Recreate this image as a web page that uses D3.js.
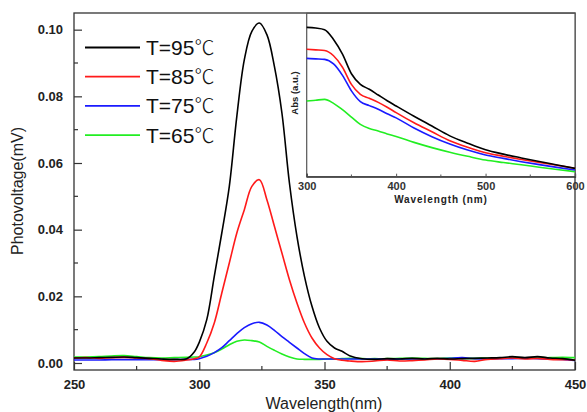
<!DOCTYPE html>
<html>
<head>
<meta charset="utf-8">
<script src="https://cdn.jsdelivr.net/npm/d3@7"></script>
<style>
  body { margin: 0; background: #fff; }
  svg { display: block; font-family: "Liberation Sans", Arial, sans-serif; }
</style>
</head>
<body>
<div id="chart"></div>
<script>
// main plot: photovoltage spectra
var wavelengths = [250,255,260,265,270,275,280,285,290,295,298,300,303,306,309,312,315,318,321,324,327,330,333,336,339,342,345,348,351,354,357,360,365,370,375,380,385,390,395,400,405,410,415,420,425,430,435,440,445,450];
var t95 = [.0015,.0015,.0016,.0017,.0018,.0016,.0014,.0012,.0011,.0013,.0033,.0062,.013,.026,.039,.053,.074,.091,.0995,.102,.0985,.089,.075,.054,.038,.026,.017,.0105,.0065,.0045,.0035,.0022,.0013,.0011,.0013,.0012,.0014,.0012,.0014,.0012,.0013,.0014,.0015,.0016,.0019,.0016,.0019,.0015,.0013,.0008];
var t85 = [.0015,.0016,.0014,.0016,.0017,.0015,.0013,.0008,.0005,.0009,.0013,.0018,.006,.012,.021,.030,.039,.046,.053,.055,.049,.041,.033,.025,.018,.012,.0075,.0045,.0025,.0013,.0008,.0006,.0004,.0006,.0009,.0006,.0007,.0009,.0012,.0011,.0008,.0005,.0011,.0013,.0015,.0012,.0014,.0011,.0010,.0009];
var t75 = [.0009,.0009,.0009,.0010,.0010,.0010,.0010,.0010,.0010,.0011,.0011,.0013,.0020,.0031,.0046,.0067,.0088,.0106,.0118,.0122,.0114,.0098,.0079,.0062,.0045,.0028,.0015,.0012,.0012,.0012,.0012,.0012,.0012,.0012,.0011,.0012,.0012,.0012,.0012,.0014,.0016,.0013,.0012,.0013,.0013,.0014,.0013,.0012,.0011,.0008];
var t65 = [.0018,.0018,.0019,.0021,.0022,.0019,.0016,.0015,.0016,.0017,.0018,.0019,.0024,.0031,.0042,.0055,.0065,.0069,.0067,.0063,.0050,.0038,.0027,.0018,.0012,.0011,.0011,.0011,.0012,.0012,.0013,.0014,.0013,.0013,.0013,.0014,.0015,.0014,.0013,.0015,.0014,.0014,.0015,.0015,.0016,.0015,.0016,.0016,.0017,.0016];

var seriesTemps = ["T=95", "T=85", "T=75", "T=65"];
var seriesColors = ["#000000", "#ff1a1a", "#1a1aff", "#22ee22"];
var xTicks = [250, 300, 350, 400, 450];
var yTicks = [0, 0.02, 0.04, 0.06, 0.08, 0.10];

// inset: absorbance spectra
var insetWl = [300,310,320,330,340,350,360,370,380,390,400,420,440,460,480,500,520,540,560,580,600];
var abs95 = [.914,.91,.90,.84,.75,.63,.565,.535,.50,.465,.433,.37,.31,.25,.205,.165,.138,.115,.093,.072,.051];
var abs85 = [.78,.776,.772,.74,.67,.565,.504,.48,.455,.425,.392,.33,.275,.22,.18,.147,.125,.105,.087,.07,.051];
var abs75 = [.724,.721,.718,.69,.62,.525,.459,.435,.413,.385,.36,.298,.245,.2,.163,.133,.112,.092,.074,.057,.041];
var abs65 = [.463,.468,.473,.449,.41,.365,.32,.295,.28,.262,.246,.21,.178,.15,.125,.102,.087,.073,.058,.044,.031];
var insetTicks = [300, 400, 500, 600];

var width = 587, height = 412;
var svg = d3.select("#chart").append("svg")
    .attr("width", width)
    .attr("height", height);

var xScale = d3.scaleLinear().domain([250, 450]).range([74, 575]);
var yScale = d3.scaleLinear().domain([-0.0021, 0.105]).range([370, 13]);

var axisColor = "#333";

// frame
svg.append("rect")
    .attr("x", 74).attr("y", 13)
    .attr("width", 575 - 74).attr("height", 370 - 13)
    .attr("fill", "none").attr("stroke", axisColor).attr("stroke-width", 1.3);

// minor ticks
var minorX = d3.range(275, 450, 50);
var minorY = d3.range(0.01, 0.105, 0.02);
svg.append("g").selectAll("line").data(minorX).enter().append("line")
    .attr("x1", d => xScale(d)).attr("x2", d => xScale(d))
    .attr("y1", 370).attr("y2", 366)
    .attr("stroke", axisColor).attr("stroke-width", 1.2);
svg.append("g").selectAll("line").data(minorY).enter().append("line")
    .attr("x1", 74).attr("x2", 78)
    .attr("y1", d => yScale(d)).attr("y2", d => yScale(d))
    .attr("stroke", axisColor).attr("stroke-width", 1.2);

// major ticks via d3 axes
var xAxis = d3.axisBottom(xScale).tickValues(xTicks).tickSize(-8).tickPadding(10).tickFormat(d3.format("d"));
var yAxis = d3.axisLeft(yScale).tickValues(yTicks).tickSize(-8).tickPadding(11).tickFormat(d3.format(".2f"));

var gx = svg.append("g").attr("transform", "translate(0,370)").call(xAxis);
var gy = svg.append("g").attr("transform", "translate(74,0)").call(yAxis);
[gx, gy].forEach(function(g) {
    g.select(".domain").remove();
    g.selectAll(".tick line").attr("stroke", axisColor).attr("stroke-width", 1.2);
    g.selectAll(".tick text")
        .attr("fill", "#222")
        .style("font-size", "13px")
        .style("font-weight", "bold")
        .style("font-family", "'Liberation Sans', Arial, sans-serif");
});

// axis titles
svg.append("text")
    .attr("x", 324).attr("y", 409)
    .attr("text-anchor", "middle")
    .style("font-size", "16px")
    .attr("fill", "#222")
    .text("Wavelength(nm)");
svg.append("text")
    .attr("transform", "translate(23,191) rotate(-90)")
    .attr("text-anchor", "middle")
    .style("font-size", "16px")
    .attr("fill", "#222")
    .text("Photovoltage(mV)");

// curves
var mainSeries = [t95, t85, t75, t65];
var line = d3.line()
    .x((d, i) => xScale(wavelengths[i]))
    .y(d => yScale(d))
    .curve(d3.curveCatmullRom.alpha(0.5));

svg.append("g").selectAll("path")
    .data(mainSeries.slice().reverse())
    .enter().append("path")
    .attr("d", d => line(d))
    .attr("fill", "none")
    .attr("stroke", (d, i) => seriesColors[3 - i])
    .attr("stroke-width", 1.6);

// legend
var legend = svg.append("g").selectAll("g")
    .data(seriesTemps).enter().append("g")
    .attr("transform", (d, i) => "translate(0," + (47.5 + i * 29.2) + ")");
legend.append("line")
    .attr("x1", 85).attr("x2", 140)
    .attr("stroke", (d, i) => seriesColors[i])
    .attr("stroke-width", 1.8);
var lt = legend.append("text")
    .attr("x", 146).attr("y", 7.5)
    .style("font-size", "21px")
    .attr("fill", "#111");
lt.append("tspan").text(d => d);
lt.append("tspan")
    .style("font-family", "'Noto Sans CJK SC', 'Noto Sans CJK JP', sans-serif")
    .style("font-weight", "300")
    .style("font-size", "20px")
    .text("℃");

// inset
var ix = d3.scaleLinear().domain([300, 600]).range([306.7, 575]);
var iy = d3.scaleLinear().domain([0, 1]).range([176.7, 13.3]);

svg.append("rect")
    .attr("x", 306.7).attr("y", 13.3)
    .attr("width", 575 - 306.7).attr("height", 176.7 - 13.3)
    .attr("fill", "#fff").attr("stroke", "#555").attr("stroke-width", 1.2);

var insetAxis = d3.axisBottom(ix).tickValues(insetTicks).tickSize(-3).tickPadding(6).tickFormat(d3.format("d"));
var gi = svg.append("g").attr("transform", "translate(0,176.7)").call(insetAxis);
gi.select(".domain").attr("stroke", "#333").attr("stroke-width", 1.3);
gi.selectAll(".tick line").attr("stroke", "#555");
gi.selectAll(".tick text")
    .attr("fill", "#333")
    .style("font-size", "11px")
    .style("font-weight", "bold")
    .style("font-family", "'Liberation Sans', Arial, sans-serif");
svg.append("g").selectAll("line").data([350, 450, 550]).enter().append("line")
    .attr("x1", d => ix(d)).attr("x2", d => ix(d))
    .attr("y1", 176.7).attr("y2", 174.5)
    .attr("stroke", "#555");

svg.append("text")
    .attr("x", 441).attr("y", 203)
    .attr("text-anchor", "middle")
    .style("font-size", "10px")
    .style("font-weight", "bold")
    .style("letter-spacing", "0.9px")
    .attr("fill", "#222")
    .text("Wavelength (nm)");
svg.append("text")
    .attr("transform", "translate(298,93) rotate(-90)")
    .attr("text-anchor", "middle")
    .style("font-size", "9.5px")
    .style("font-weight", "bold")
    .attr("fill", "#222")
    .text("Abs (a.u.)");

var insetSeries = [abs95, abs85, abs75, abs65];
var insetLine = d3.line()
    .x((d, i) => ix(insetWl[i]))
    .y(d => iy(d))
    .curve(d3.curveMonotoneX);
svg.append("g").selectAll("path")
    .data(insetSeries.slice().reverse())
    .enter().append("path")
    .attr("d", d => insetLine(d))
    .attr("fill", "none")
    .attr("stroke", (d, i) => seriesColors[3 - i])
    .attr("stroke-width", 1.6);
</script>
</body>
</html>
